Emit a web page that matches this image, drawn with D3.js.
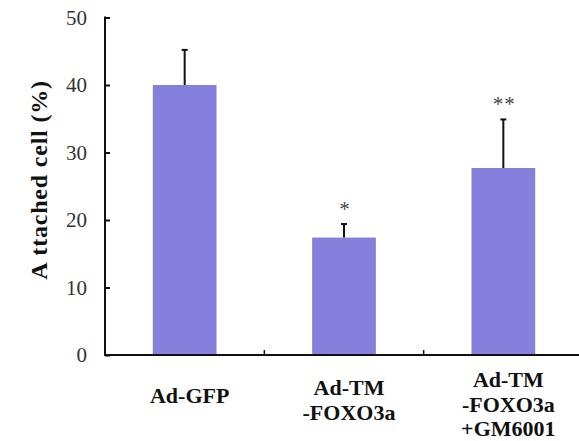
<!DOCTYPE html>
<html><head><meta charset="utf-8">
<script src="https://cdn.jsdelivr.net/npm/d3@7"></script>
<style>
html,body{margin:0;padding:0;background:#fff;}
svg{display:block;font-family:"Liberation Serif","Times New Roman",serif;}
</style></head>
<body>
<svg id="c" width="579" height="441"></svg>
<script>
const categories = ["Ad-GFP", "Ad-TM\n-FOXO3a", "Ad-TM\n-FOXO3a\n+GM6001"];
const means = [40.0, 17.4, 27.7];
const errors = [5.2, 2.0, 7.2];
const marks = ["", "*", "**"];
const yTicks = [0, 10, 20, 30, 40, 50];
const yTitle = "Attached cell (%)";

const svg = d3.select("#c");
const y = d3.scaleLinear().domain([0, 50]).range([355, 17.5]);
const x = d3.scaleBand().domain(categories).range([105, 583]).paddingInner(0.6).paddingOuter(0.3);
const bw = x.bandwidth();
const step = x.step();

// bars
svg.selectAll("rect.bar").data(categories).join("rect")
  .attr("class", "bar")
  .attr("x", d => x(d))
  .attr("width", bw)
  .attr("y", (d, i) => y(means[i]))
  .attr("height", (d, i) => y(0) - y(means[i]))
  .attr("fill", "#8680dd");

// error bars (upper only)
categories.forEach((c, i) => {
  const cx = x(c) + bw / 2;
  svg.append("line").attr("x1", cx).attr("x2", cx)
    .attr("y1", y(means[i])).attr("y2", y(means[i] + errors[i]))
    .attr("stroke", "#111").attr("stroke-width", 2);
  svg.append("line").attr("x1", cx - 3).attr("x2", cx + 3)
    .attr("y1", y(means[i] + errors[i])).attr("y2", y(means[i] + errors[i]))
    .attr("stroke", "#111").attr("stroke-width", 2);
  if (marks[i]) {
    svg.append("text").attr("x", cx + 1).attr("y", y(means[i] + errors[i]) - 8)
      .attr("text-anchor", "middle").attr("font-size", 21).attr("fill", "#444")
      .attr("letter-spacing", 1)
      .text(marks[i]);
  }
});

// y axis
const yAxis = d3.axisLeft(y).tickValues(yTicks).tickSize(-5).tickPadding(18);
const gy = svg.append("g").attr("transform", "translate(105,0)").call(yAxis);
gy.attr("font-family", null);
gy.select(".domain").remove();
gy.selectAll(".tick line").attr("stroke", "#111").attr("stroke-width", 2);
gy.selectAll(".tick text").attr("font-size", 21).attr("fill", "#333");
svg.append("line").attr("x1", 105).attr("x2", 105).attr("y1", y(50) - 1).attr("y2", y(0) + 1)
  .attr("stroke", "#111").attr("stroke-width", 2);

// x axis
svg.append("line").attr("x1", 104).attr("x2", 579).attr("y1", y(0)).attr("y2", y(0))
  .attr("stroke", "#111").attr("stroke-width", 2);
categories.slice(0, -1).forEach(c => {
  const tx = x(c) + bw + (step - bw) / 2;
  svg.append("line").attr("x1", tx).attr("x2", tx).attr("y1", y(0)).attr("y2", y(0) - 5)
    .attr("stroke", "#111").attr("stroke-width", 1.5);
});

// x labels
categories.forEach(c => {
  const lines = c.split("\n");
  const t = svg.append("text").attr("text-anchor", "middle")
    .attr("font-size", 22).attr("font-weight", "bold").attr("fill", "#111");
  lines.forEach((l, j) => {
    t.append("tspan").attr("x", x(c) + bw / 2 + 5)
      .attr("y", 403 - 8 * (lines.length - 1) + j * 24.5).text(l);
  });
});

// y title
const tt = svg.append("text").attr("transform", "translate(47,180) rotate(-90)")
  .attr("text-anchor", "middle").attr("font-size", 24).attr("font-weight", "bold")
  .attr("letter-spacing", 0.8).attr("fill", "#111");
tt.append("tspan").text(yTitle.slice(0, 1));
tt.append("tspan").attr("dx", 6).text(yTitle.slice(1));
</script>
</body></html>
